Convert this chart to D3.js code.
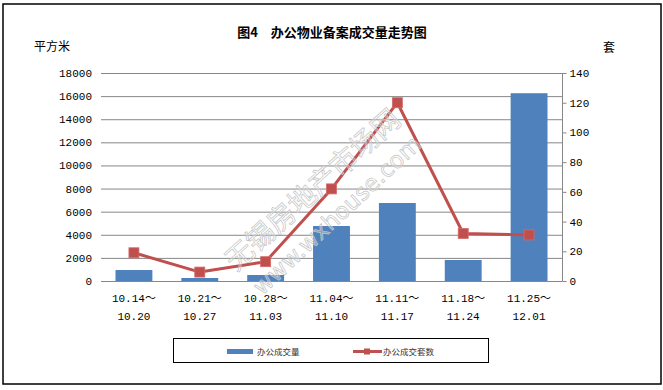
<!DOCTYPE html>
<html><head><meta charset="utf-8">
<script src="https://cdn.jsdelivr.net/npm/d3@7/dist/d3.min.js"></script>
<style>body{margin:0;background:#fff;}svg{display:block;}</style>
</head><body>
<svg id="c" width="663" height="390"></svg>
<script>
const categories = [["10.14～","10.20"],["10.21～","10.27"],["10.28～","11.03"],["11.04～","11.10"],["11.11～","11.17"],["11.18～","11.24"],["11.25～","12.01"]];
const areaValues = [950, 260, 520, 4760, 6750, 1820, 16250];   // 办公成交量 (平方米)
const unitValues = [19, 6, 13, 62, 120, 32, 31];                 // 办公成交套数 (套)
const leftTicks = [0,2000,4000,6000,8000,10000,12000,14000,16000,18000];
const rightTicks = [0,20,40,60,80,100,120,140];
const title = "图4　办公物业备案成交量走势图";

const svg = d3.select("#c");
const monoFont = "'Liberation Mono','Noto Sans CJK SC',monospace";
const cjkFont = "'Noto Sans CJK SC','SimSun',sans-serif";

svg.append("rect").attr("x",3).attr("y",4).attr("width",658).attr("height",380)
  .attr("fill","#fff").attr("stroke","#000").attr("stroke-width",1.5);

const L = 101, R = 562, T = 73, B = 281;
const x = d3.scaleBand().domain(d3.range(categories.length)).range([L,R]).paddingInner(0.44).paddingOuter(0.22);
const yL = d3.scaleLinear().domain([0,18000]).range([B,T]);
const yR = d3.scaleLinear().domain([0,140]).range([B,T]);

// gridlines
svg.append("g").selectAll("line").data(leftTicks).join("line")
  .attr("x1",L).attr("x2",R).attr("y1",d=>yL(d)+0.5).attr("y2",d=>yL(d)+0.5)
  .attr("stroke","#878787").attr("stroke-width",1);

// left axis labels
const gl = svg.append("g").attr("transform",`translate(${L},0)`)
  .call(d3.axisLeft(yL).tickValues(leftTicks).tickSize(0).tickPadding(9).tickFormat(d3.format("d")));
gl.select(".domain").remove();
gl.selectAll("text").attr("font-family",monoFont).attr("font-size",11).attr("fill","#000");

// right axis
const gr = svg.append("g").attr("transform",`translate(${R+0.5},0)`)
  .call(d3.axisRight(yR).tickValues(rightTicks).tickSize(4).tickPadding(3).tickFormat(d3.format("d")));
gr.select(".domain").attr("stroke","#878787").attr("d",`M0,${T}V${B+0.5}`);
gr.selectAll(".tick line").attr("stroke","#878787");
gr.selectAll("text").attr("font-family",monoFont).attr("font-size",11).attr("fill","#000");

// bars
svg.append("g").selectAll("rect").data(areaValues).join("rect")
  .attr("x",(d,i)=>x(i)).attr("width",x.bandwidth())
  .attr("y",d=>yL(d)).attr("height",d=>B-yL(d)).attr("fill","#4F81BD");

// x axis line
svg.append("line").attr("x1",L).attr("x2",R).attr("y1",B+0.5).attr("y2",B+0.5).attr("stroke","#878787");

// category labels
const cx = i => x(i)+x.bandwidth()/2;
const cl = svg.append("g").selectAll("text").data(categories).join("text")
  .attr("x",(d,i)=>cx(i)).attr("text-anchor","middle")
  .attr("font-family",monoFont).attr("font-size",11).attr("fill","#000");
cl.append("tspan").attr("x",(d,i)=>cx(i)).attr("y",302).text(d=>d[0]);
cl.append("tspan").attr("x",(d,i)=>cx(i)).attr("y",320).text(d=>d[1]);

// line
const line = d3.line().x((d,i)=>cx(i)).y(d=>yR(d));
svg.append("path").datum(unitValues).attr("d",line).attr("fill","none")
  .attr("stroke","#C0504D").attr("stroke-width",3).attr("stroke-linejoin","round");
svg.append("g").selectAll("rect").data(unitValues).join("rect")
  .attr("x",(d,i)=>cx(i)-5).attr("y",d=>yR(d)-5).attr("width",10).attr("height",10)
  .attr("fill","#C0504D").attr("stroke","#d46a67").attr("stroke-width",0.8);

// watermark
const wm = svg.append("g");
wm.append("text").attr("transform","translate(236,272) rotate(-42)")
  .attr("font-family",cjkFont).attr("font-size",28)
  .attr("fill","rgba(255,255,255,0.3)").attr("stroke","#c4c4c4").attr("stroke-width",0.7)
  .text("无锡房地产市场网");
wm.append("text").attr("transform","translate(262,296) rotate(-43)")
  .attr("font-family","'DejaVu Sans',sans-serif").attr("font-size",23)
  .attr("fill","rgba(255,255,255,0.3)").attr("stroke","#c4c4c4").attr("stroke-width",0.7)
  .text("www.wxhouse.com");

// titles
svg.append("text").attr("x",332).attr("y",37).attr("text-anchor","middle")
  .attr("font-family",cjkFont).attr("font-size",13).attr("font-weight","bold").text(title);
svg.append("text").attr("x",34).attr("y",51).attr("font-family",cjkFont).attr("font-size",12).text("平方米");
svg.append("text").attr("x",603).attr("y",52).attr("font-family",cjkFont).attr("font-size",12).text("套");

// legend
const lg = svg.append("g");
lg.append("rect").attr("x",173.5).attr("y",338.5).attr("width",315).attr("height",24)
  .attr("fill","#fff").attr("stroke","#000").attr("stroke-width",1);
lg.append("rect").attr("x",227).attr("y",349).attr("width",26).attr("height",5).attr("fill","#4F81BD");
lg.append("text").attr("x",257).attr("y",354.5).attr("font-family",cjkFont).attr("font-size",8.5).attr("fill","#333").text("办公成交量");
lg.append("line").attr("x1",353).attr("x2",382).attr("y1",351.5).attr("y2",351.5).attr("stroke","#C0504D").attr("stroke-width",3);
lg.append("rect").attr("x",364).attr("y",348.5).attr("width",6).attr("height",6).attr("fill","#C0504D");
lg.append("text").attr("x",383).attr("y",354.5).attr("font-family",cjkFont).attr("font-size",8.5).attr("fill","#333").text("办公成交套数");
</script>
</body></html>
